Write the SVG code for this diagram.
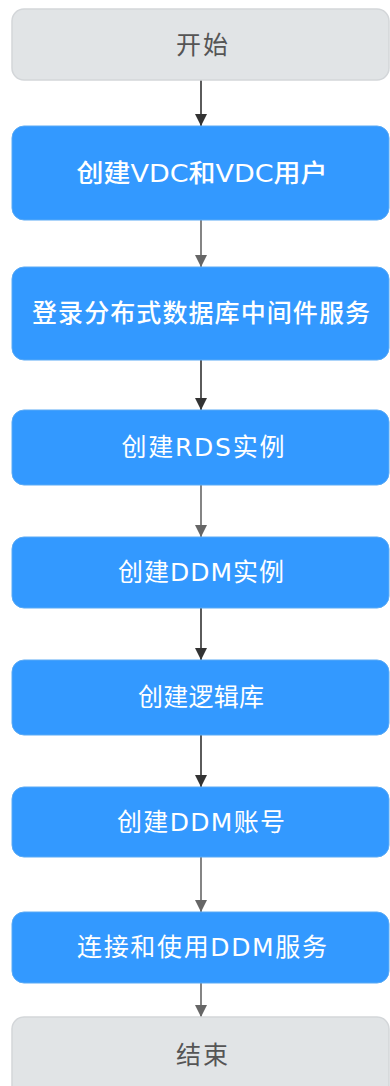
<svg xmlns="http://www.w3.org/2000/svg" width="390" height="1086" viewBox="0 0 390 1086">
<style>
.term rect{fill:#e1e4e6;stroke:#d3d6d9;stroke-width:1.5}
.step rect{fill:#3399ff;stroke:#5aaaf5;stroke-width:1}
text{font-family:"DejaVu Sans","Noto Sans CJK SC",sans-serif;font-size:25px;text-anchor:middle;dominant-baseline:central}
.term text{fill:#555}
.step text{fill:#fff}
.bold text{font-weight:500}
.dk{stroke:#333;stroke-width:1.6;fill:none}
.lt{stroke:#666;stroke-width:1.6;fill:none}
</style>
<defs>
<marker id="ad" viewBox="0 0 10 10" refX="10" refY="5" markerWidth="12" markerHeight="12" markerUnits="userSpaceOnUse" orient="auto"><path d="M0,0 L10,5 L0,10 Z" fill="#333"/></marker>
<marker id="al" viewBox="0 0 10 10" refX="10" refY="5" markerWidth="12" markerHeight="12" markerUnits="userSpaceOnUse" orient="auto"><path d="M0,0 L10,5 L0,10 Z" fill="#666"/></marker>
</defs>
<g id="connectors">
<path class="dk" d="M201,80 V126" marker-end="url(#ad)"/>
<path class="lt" d="M201,220 V267" marker-end="url(#al)"/>
<path class="dk" d="M201,360 V410" marker-end="url(#ad)"/>
<path class="lt" d="M201,485 V537" marker-end="url(#al)"/>
<path class="dk" d="M201,608 V660" marker-end="url(#ad)"/>
<path class="dk" d="M201,735 V787" marker-end="url(#ad)"/>
<path class="lt" d="M201,857 V912" marker-end="url(#al)"/>
<path class="lt" d="M201,983 V1017" marker-end="url(#al)"/>
</g>
<g id="start" class="term"><rect x="12" y="9" width="377" height="71" rx="12"/><text x="202" y="45" textLength="52">开始</text></g>
<g id="n1" class="step bold"><rect x="12" y="126" width="377" height="94" rx="12"/><text x="202" y="173" font-size="24" textLength="251" lengthAdjust="spacingAndGlyphs">创建VDC和VDC用户</text></g>
<g id="n2" class="step bold"><rect x="12" y="267" width="377" height="93" rx="12"/><text x="201" y="313" font-size="26" textLength="338">登录分布式数据库中间件服务</text></g>
<g id="n3" class="step"><rect x="12" y="410" width="377" height="75" rx="12"/><text x="203" y="447" textLength="163">创建RDS实例</text></g>
<g id="n4" class="step"><rect x="12" y="537" width="377" height="71" rx="12"/><text x="201" y="572" textLength="166">创建DDM实例</text></g>
<g id="n5" class="step"><rect x="12" y="660" width="377" height="75" rx="12"/><text x="201" y="697" textLength="126">创建逻辑库</text></g>
<g id="n6" class="step"><rect x="12" y="787" width="377" height="70" rx="12"/><text x="201" y="822" textLength="168">创建DDM账号</text></g>
<g id="n7" class="step"><rect x="12" y="912" width="377" height="71" rx="12"/><text x="202" y="947" textLength="250">连接和使用DDM服务</text></g>
<g id="end" class="term"><rect x="12" y="1017" width="377" height="80" rx="12"/><text x="202" y="1055" textLength="52">结束</text></g>
</svg>
